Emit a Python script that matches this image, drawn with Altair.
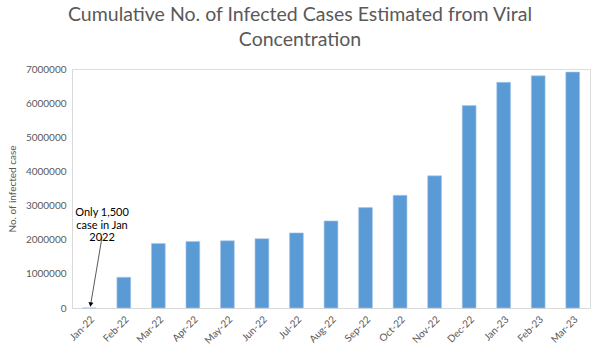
import altair as alt
import pandas as pd

months = ["Jan-22", "Feb-22", "Mar-22", "Apr-22", "May-22", "Jun-22", "Jul-22", "Aug-22",
          "Sep-22", "Oct-22", "Nov-22", "Dec-22", "Jan-23", "Feb-23", "Mar-23"]
cases = [1500, 900000, 1890000, 1950000, 1970000, 2030000, 2200000, 2550000,
         2940000, 3300000, 3870000, 5930000, 6610000, 6800000, 6910000]
y_ticks = [0, 1000000, 2000000, 3000000, 4000000, 5000000, 6000000, 7000000]

# annotation: position in "month index" units (0 = Jan-22)
note_lines = ["Only 1,500", "case in Jan", "2022"]
note_x = [0.37]
note_value = [2780000]
arrow_x = [0.37]
arrow_x2 = [0.04]
arrow_start = [2080000]
arrow_end = [100000]

df = pd.DataFrame({"month": months, "cases": cases})
note_df = pd.DataFrame({"nx": note_x, "v": note_value, "ax": arrow_x, "ax2": arrow_x2,
                        "s": arrow_start, "e": arrow_end})

FONT = "Lato"
GREY = "#595959"
Y_TITLE = "No. of infected case"

y_scale = alt.Scale(domain=[0, 7000000], nice=False)
y_axis = alt.Axis(values=y_ticks, format="d", grid=False, ticks=False, labelOverlap=False,
                  labelFontSize=10, labelColor=GREY, labelFont=FONT, labelPadding=6,
                  domainColor="#d9d9d9", titleFont=FONT, titleFontSize=10,
                  titleColor=GREY, titleFontWeight="normal", titleX=-55)

x_enc = alt.X("month:N", sort=months, title=None,
              scale=alt.Scale(paddingInner=0.6, paddingOuter=0.3),
              axis=alt.Axis(labelAngle=-45, labelFontSize=10, labelColor=GREY, labelFont=FONT,
                            ticks=False, domainColor="#d9d9d9", labelPadding=6))

bars = alt.Chart(df).mark_bar(color="#5B9BD5", stroke="#a9c8ea", strokeWidth=0.6).encode(
    x=x_enc,
    y=alt.Y("cases:Q", title=Y_TITLE, scale=y_scale, axis=y_axis),
)

idx_scale = alt.Scale(domain=[-0.5, len(months) - 0.5], nice=False, zero=False)

text = alt.Chart(note_df).mark_text(text=note_lines, font=FONT, fontSize=11, color="#000000",
                                    align="center", baseline="middle", lineHeight=12.5).encode(
    x=alt.X("nx:Q", scale=idx_scale, axis=None),
    y=alt.Y("v:Q", title=Y_TITLE, scale=y_scale, axis=y_axis),
)

arrow = alt.Chart(note_df).mark_rule(color=GREY, strokeWidth=1).encode(
    x=alt.X("ax:Q", scale=idx_scale, axis=None),
    x2=alt.X2("ax2"),
    y=alt.Y("s:Q", title=Y_TITLE, scale=y_scale, axis=y_axis),
    y2=alt.Y2("e"),
)

head = alt.Chart(note_df).mark_point(shape="triangle-down", filled=True, color="#000000",
                                     size=25, angle=9, opacity=1).encode(
    x=alt.X("ax2:Q", scale=idx_scale, axis=None),
    y=alt.Y("e:Q", title=Y_TITLE, scale=y_scale, axis=y_axis),
)

annot = alt.layer(arrow, head, text)

chart = alt.layer(bars, annot).resolve_scale(x="independent").properties(
    width=518, height=239,
    autosize=alt.AutoSizeParams(type="none"),
    padding={"left": 72, "top": 69, "right": 10, "bottom": 45},
    title=alt.Title(["Cumulative No. of Infected Cases Estimated from Viral", "Concentration"],
                    font=FONT, fontSize=19.5, fontWeight="normal", color=GREY,
                    anchor="middle", dx=-31, offset=14, lineHeight=25),
).configure_view(stroke=None).configure(background="white")

chart.save("out.html", embed_options={"renderer": "svg", "actions": False})
